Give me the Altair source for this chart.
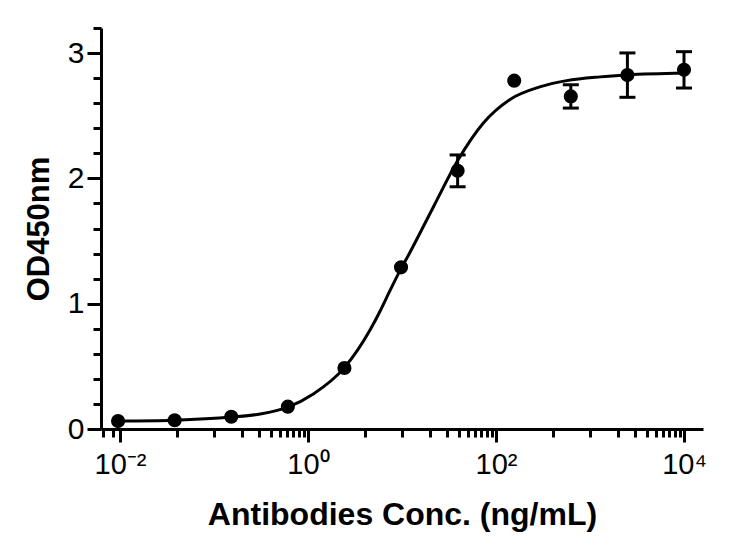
import altair as alt
import pandas as pd

# Measured data (4-fold dilution series)
conc = [0.0095367431640625, 0.03814697265625, 0.152587890625, 0.6103515625,
        2.44140625, 9.765625, 39.0625, 156.25, 625, 2500, 10000]
od = [0.063, 0.07, 0.098, 0.178, 0.487, 1.29, 2.06, 2.78, 2.654, 2.824, 2.866]
err = [0, 0, 0, 0, 0, 0, 0.127, 0, 0.093, 0.177, 0.145]

# Fitted curve
curve_x = [0.0095, 0.038, 0.153, 0.31, 0.61, 1.14, 2.44, 4.57, 5.84, 7.4, 9.77,
           11.2, 21.5, 39.7, 73, 141, 292, 565, 1280, 2500, 10000]
curve_y = [0.063, 0.07, 0.095, 0.12, 0.175, 0.28, 0.49, 0.79, 0.94, 1.10, 1.28,
           1.36, 1.77, 2.15, 2.44, 2.63, 2.73, 2.78, 2.81, 2.825, 2.84]

# Axis ticks
x_major = [0.01, 1, 100, 10000]
x_major_labels = ["10⁻²", "10⁰", "10²", "10⁴"]
x_minor = [0.0066, 0.0084, 0.04, 0.1, 0.2, 0.3, 0.4, 0.5, 0.6, 0.7, 0.8, 0.9,
           4, 10, 20, 30, 40, 50, 60, 70, 80, 90,
           400, 1000, 2000, 3000, 4000, 5000, 6000, 7000, 8000, 9000]
y_major = [0, 1, 2, 3]
y_minor = [0.2, 0.4, 0.6, 0.8, 1.2, 1.4, 1.6, 1.8, 2.2, 2.4, 2.6, 2.8, 3.2]

df = pd.DataFrame({"conc": conc, "od": od, "err": err})
df["lo"] = df["od"] - df["err"]
df["hi"] = df["od"] + df["err"]
df_err = df[df["err"] > 0]
curve = pd.DataFrame({"conc": curve_x, "od": curve_y})

FONT = "Liberation Sans"
xdom = [10 ** -2.2021, 10 ** 4.2021]

label_expr = " : ".join(
    f"datum.value == {v} ? '{l}'" for v, l in zip(x_major, x_major_labels)
) + " : ''"
x_test = "indexof([" + ",".join(str(v) for v in x_major) + "], datum.value) >= 0"
y_test = "indexof([" + ",".join(str(v) for v in y_major) + "], datum.value) >= 0"

x_scale = alt.Scale(type="log", domain=xdom, nice=False)
x_axis = alt.Axis(
    values=sorted(x_major + x_minor),
    labelExpr=label_expr,
    tickSize={"condition": {"test": x_test, "value": 13}, "value": 8},
    tickWidth=3, tickColor="black", domainColor="black", domainWidth=3,
    labelFont=FONT, labelFontSize=29, labelColor="black", labelPadding=8,
    labelOverlap=False, labelFlush=False, labelBound=False,
    title="Antibodies Conc. (ng/mL)", titleFont=FONT, titleFontSize=32,
    titleFontWeight="bold", titleColor="black", titlePadding=20,
    grid=False,
)
y_scale = alt.Scale(domain=[0, 3.2], nice=False, zero=False)
y_axis = alt.Axis(
    values=sorted(y_major + y_minor),
    labelExpr=f"{y_test} ? format(datum.value, 'd') : ''",
    tickSize={"condition": {"test": y_test, "value": 14}, "value": 8},
    tickWidth=3, tickColor="black", domainColor="black", domainWidth=3,
    labelFont=FONT, labelFontSize=30, labelColor="black", labelPadding=3,
    labelOverlap=False, labelFlush=False,
    title="OD450nm", titleFont=FONT, titleFontSize=31, titleFontWeight="bold",
    titleColor="black", titlePadding=12, grid=False,
)


def X(f):
    return alt.X(f, scale=x_scale, axis=x_axis)


def Y(f):
    return alt.Y(f, scale=y_scale, axis=y_axis)


line = alt.Chart(curve).mark_line(color="black", strokeWidth=3, interpolate="monotone").encode(
    x=X("conc:Q"), y=Y("od:Q")
)
bars = alt.Chart(df_err).mark_rule(color="black", strokeWidth=3).encode(
    x=X("conc:Q"), y=Y("lo:Q"), y2="hi:Q"
)
cap_lo = alt.Chart(df_err).mark_tick(color="black", thickness=3, size=16, orient="horizontal", opacity=1).encode(
    x=X("conc:Q"), y=Y("lo:Q")
)
cap_hi = alt.Chart(df_err).mark_tick(color="black", thickness=3, size=16, orient="horizontal", opacity=1).encode(
    x=X("conc:Q"), y=Y("hi:Q")
)
pts = alt.Chart(df).mark_circle(color="black", size=200, opacity=1).encode(
    x=X("conc:Q"), y=Y("od:Q")
)

chart = alt.layer(line, bars, cap_lo, cap_hi, pts).properties(
    width=602, height=401,
    autosize=alt.AutoSizeParams(type="none"),
    padding={"left": 93, "top": 20, "right": 20, "bottom": 110},
    background="white",
).configure_view(stroke=None).configure_axis(labelOverlap=False)

chart.save("out.html", embed_options={"renderer": "svg", "actions": False})
